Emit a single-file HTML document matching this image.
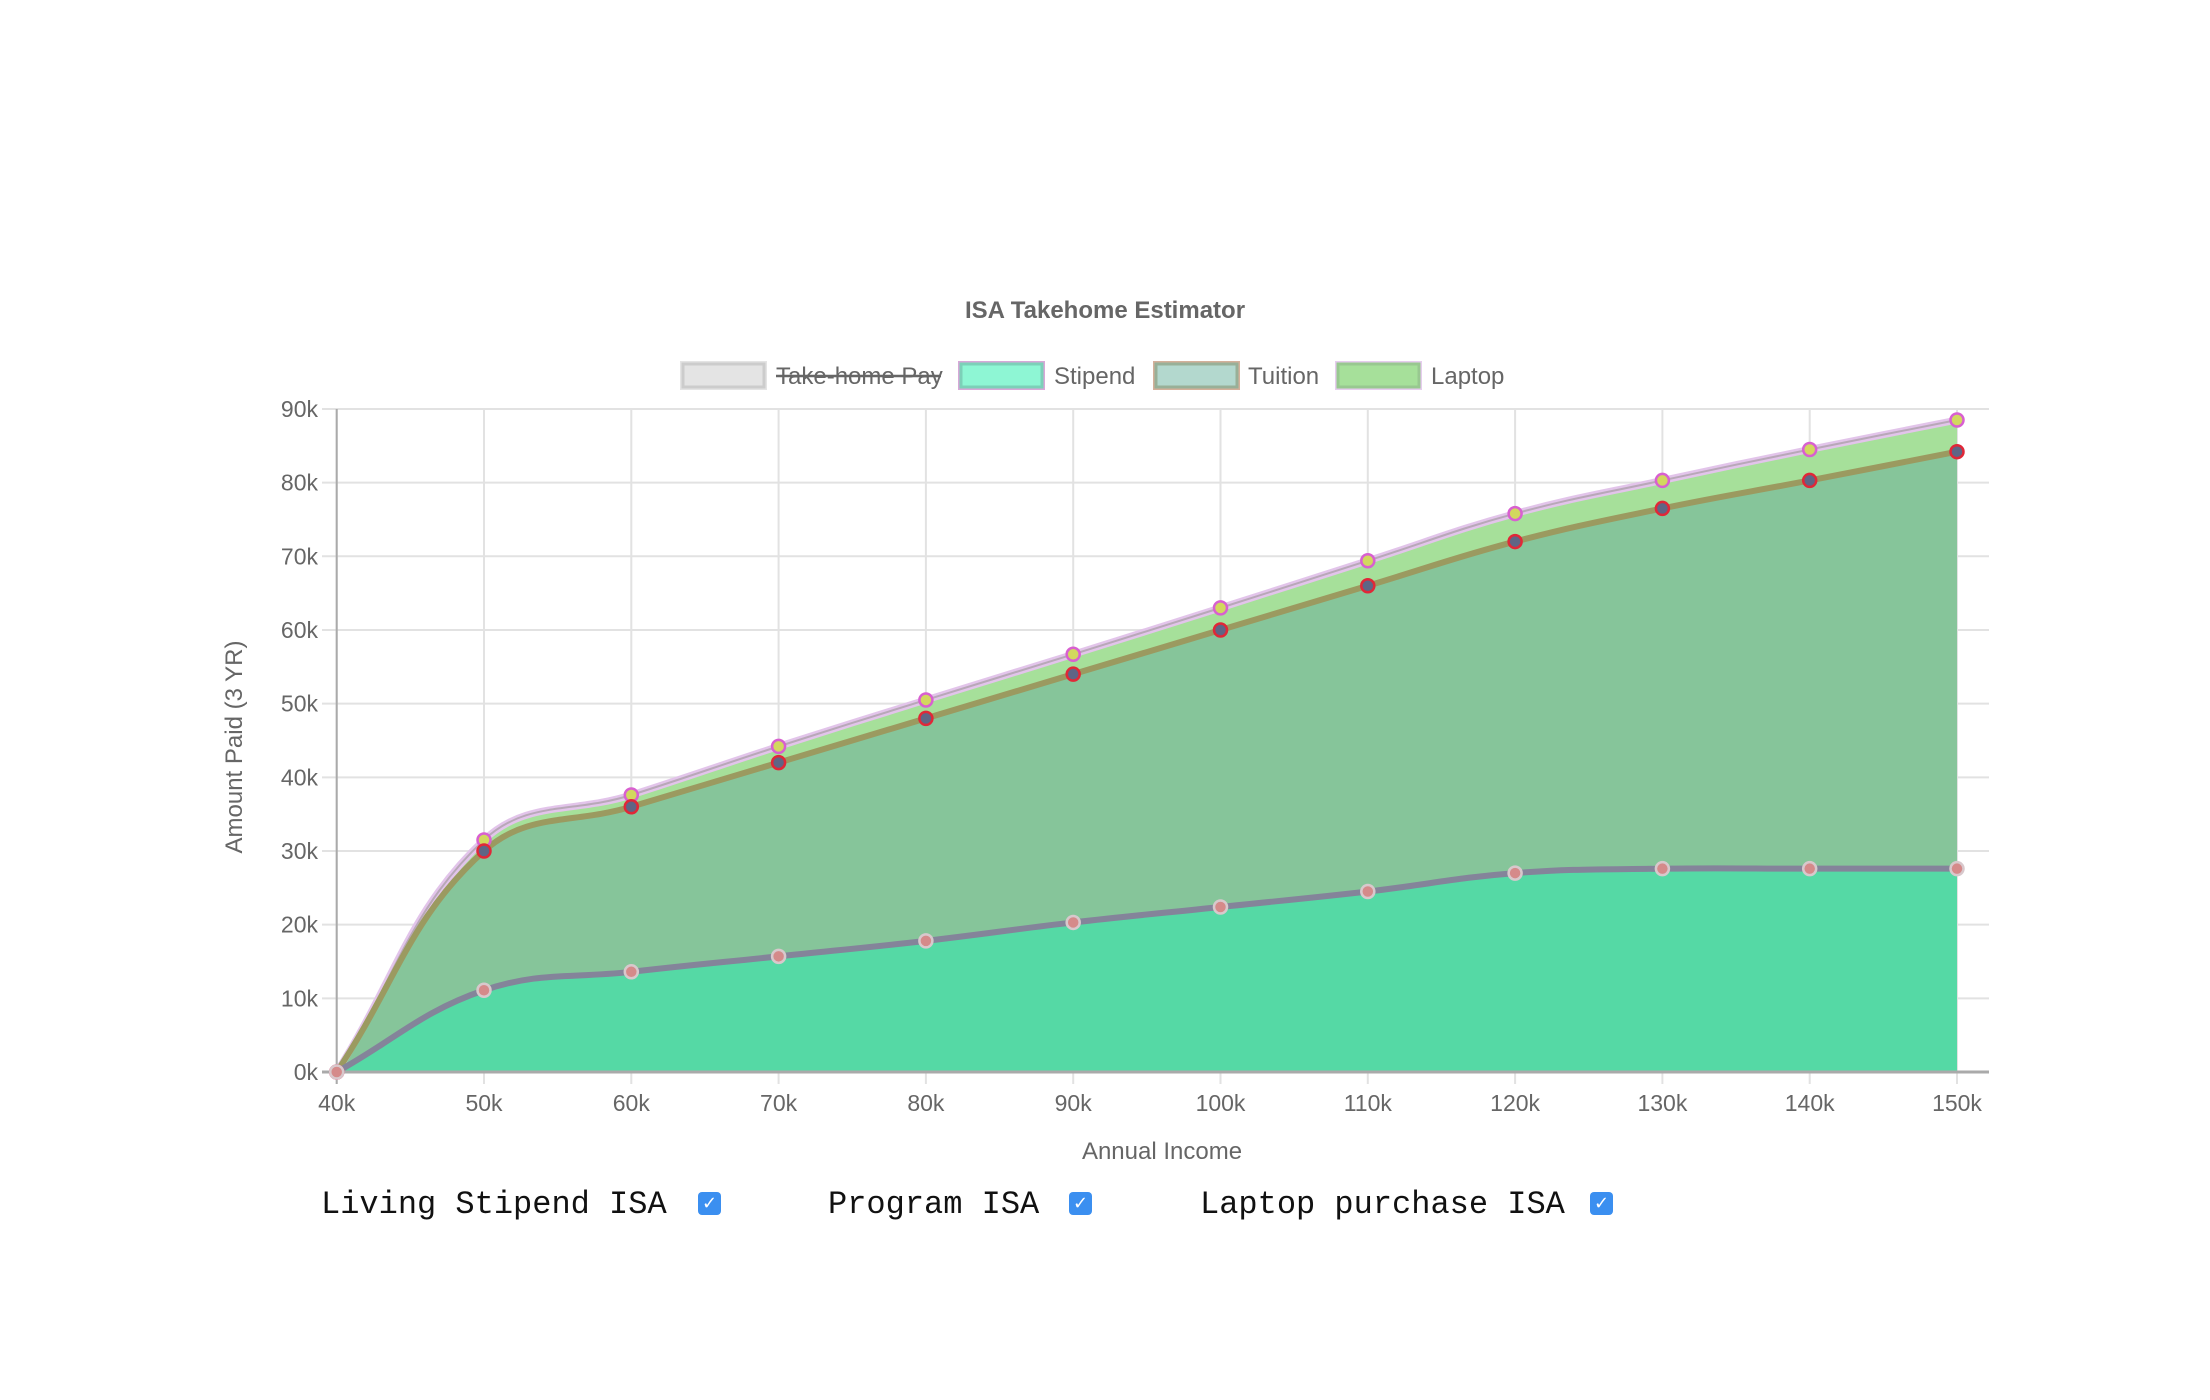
<!DOCTYPE html>
<html><head><meta charset="utf-8">
<style>
body{margin:0;background:#fff;width:2210px;height:1400px;overflow:hidden;font-family:"Liberation Sans",sans-serif;}
svg{position:absolute;left:0;top:0;}
.cbrow{position:absolute;top:1186px;font-family:"Liberation Mono",monospace;font-size:32px;color:#111;}
.cb{position:absolute;width:23px;height:23px;background:#3b8ff0;border-radius:4px;color:#fff;font-size:18px;line-height:23px;text-align:center;font-family:"DejaVu Sans",sans-serif;}
</style></head><body>
<svg id="chart" width="2210" height="1400"></svg>
<div class="cbrow" style="left:321px">Living Stipend ISA</div>
<div class="cb" style="left:698px;top:1192px">✓</div>
<div class="cbrow" style="left:828px">Program ISA</div>
<div class="cb" style="left:1069px;top:1192px">✓</div>
<div class="cbrow" style="left:1200px">Laptop purchase ISA</div>
<div class="cb" style="left:1590px;top:1192px">✓</div>
<script>
const incomes=[40,50,60,70,80,90,100,110,120,130,140,150];
const stipend=[0,11.1,13.6,15.7,17.8,20.3,22.4,24.5,27.0,27.6,27.6,27.6];
const tuition=[0,18.9,22.4,26.3,30.2,33.7,37.6,41.5,45.0,48.9,52.7,56.6];
const laptop=[0,1.5,1.6,2.2,2.5,2.7,3.0,3.4,3.8,3.8,4.2,4.3];
const yTicks=[0,10,20,30,40,50,60,70,80,90];
const xTickLabels=["40k","50k","60k","70k","80k","90k","100k","110k","120k","130k","140k","150k"];

const NS="http://www.w3.org/2000/svg";
const svg=document.getElementById('chart');
const X0=336.7,XW=147.3,Y0=1072,YH=7.367;
function xs(v){return X0+(v-40)/10*XW;}
function ys(v){return Y0-v*YH;}
function mk(tag,attrs,parent){const e=document.createElementNS(NS,tag);for(const k in attrs)e.setAttribute(k,attrs[k]);(parent||svg).appendChild(e);return e;}

yTicks.forEach(t=>{
  const l=mk('line',{x1:322,x2:1989,y1:ys(t),y2:ys(t),stroke:'#e2e2e2','stroke-width':2});
  
  
  const tx=mk('text',{x:318,y:ys(t)+8,'text-anchor':'end','font-size':23,fill:'#666'});
  tx.textContent=t+'k';
  
  
});
incomes.forEach((v,i)=>{
  const l=mk('line',{x1:xs(v),x2:xs(v),y1:ys(90),y2:Y0+12,stroke:'#e2e2e2','stroke-width':2});
  
  
  const tx=mk('text',{x:xs(v),y:1111,'text-anchor':'middle','font-size':23,fill:'#666'});
  tx.textContent=xTickLabels[i];
  
  
});

const c1=stipend.slice();
const c2=stipend.map((v,i)=>v+tuition[i]);
const c3=c2.map((v,i)=>v+laptop[i]);
function pts(arr){return arr.map((v,i)=>[xs(incomes[i]),ys(v)]);}
function spline(p){
  const t=0.4;let d='M'+p[0][0]+','+p[0][1];
  const cps=p.map((c,i)=>{
    const pr=p[Math.max(i-1,0)],nx=p[Math.min(i+1,p.length-1)];
    const d01=Math.hypot(c[0]-pr[0],c[1]-pr[1]),d12=Math.hypot(nx[0]-c[0],nx[1]-c[1]);
    let fa=d01/(d01+d12)||0,fb=d12/(d01+d12)||0;fa*=t;fb*=t;
    let p1=[c[0]-fa*(nx[0]-pr[0]),c[1]-fa*(nx[1]-pr[1])];
    let p2=[c[0]+fb*(nx[0]-pr[0]),c[1]+fb*(nx[1]-pr[1])];
    p1[1]=Math.min(p1[1],Y0);p2[1]=Math.min(p2[1],Y0);
    return [p1,p2];
  });
  for(let i=1;i<p.length;i++){
    const a=cps[i-1][1],b=cps[i][0];
    d+=' C'+a[0]+','+a[1]+' '+b[0]+','+b[1]+' '+p[i][0]+','+p[i][1];
  }
  return d;
}
function area(arr,fill,name){
  const p=pts(arr);
  const a=mk('path',{d:spline(p)+' L'+xs(150)+','+Y0+' L'+xs(40)+','+Y0+' Z',fill:fill});
  
  
}
area(c3,'#a6e09a','laptop-area');
area(c2,'#86c59a','tuition-area');
area(c1,'#55d9a5','stipend-area');
function line(arr,color,w,name){
  const l=mk('path',{d:spline(pts(arr)),fill:'none',stroke:color,'stroke-width':w});
  
  
}
line(c3,'#e2c4ea',7,'laptop-line');
line(c3,'#b8a8b8',2,'laptop-line-inner');
line(c2,'#9b9a60',6,'tuition-line');
line(c1,'#84849a',6,'stipend-line');
const ax=mk('line',{x1:X0,x2:X0,y1:ys(90),y2:Y0+12,stroke:'#aaa','stroke-width':2});

const bx=mk('line',{x1:322,x2:1989,y1:Y0,y2:Y0,stroke:'#aaa','stroke-width':3});


function points(arr,fill,stroke,name){
  pts(arr).forEach(p=>{
    const c=mk('circle',{cx:p[0],cy:p[1],r:6.5,fill:fill,stroke:stroke,'stroke-width':2.5});
    
    
  });
}
points(c3,'#d2d85e','#d860d0','laptop-point');
points(c2,'#5f6585','#e02838','tuition-point');
points(c1,'#d58a8a','#d8c8cc','stipend-point');

let t=mk('text',{x:1105,y:318,'text-anchor':'middle','font-size':24,'font-weight':'bold',fill:'#666'});
t.textContent='ISA Takehome Estimator';
t=mk('text',{x:1162,y:1159,'text-anchor':'middle','font-size':24,fill:'#666'});
t.textContent='Annual Income';
t=mk('text',{x:0,y:0,'text-anchor':'middle','font-size':24,fill:'#666',transform:'translate(242,747) rotate(-90)'});
t.textContent='Amount Paid (3 YR)';

const leg=[
 {x:680,tx:776,label:'Take-home Pay',fill:'#e4e4e4',stroke:'#cccccc',outer:'#e4e4e4',strike:true,name:'legend-take-home-pay'},
 {x:958,tx:1054,label:'Stipend',fill:'#8ef6d4',stroke:'#7cd0b8',outer:'#d8a8d8',name:'legend-stipend'},
 {x:1153,tx:1248,label:'Tuition',fill:'#b3d8ce',stroke:'#98b098',outer:'#d4b09a',name:'legend-tuition'},
 {x:1335,tx:1431,label:'Laptop',fill:'#a6e09a',stroke:'#98c890',outer:'#e6cdee',name:'legend-laptop'}
];
leg.forEach(l=>{
  const g=mk('g',{});
  
  
  mk('rect',{x:l.x,y:361,width:87,height:29,fill:l.outer},g);
  mk('rect',{x:l.x+3,y:364,width:81,height:23,fill:l.fill,stroke:l.stroke,'stroke-width':3},g);
  const tx=mk('text',{x:l.tx,y:384,'font-size':24,fill:'#666'},g);
  tx.textContent=l.label;
  if(l.strike){mk('line',{x1:l.tx,x2:l.tx+165,y1:376,y2:376,stroke:'#666','stroke-width':2.5},g);}
});
</script>
</body></html>
